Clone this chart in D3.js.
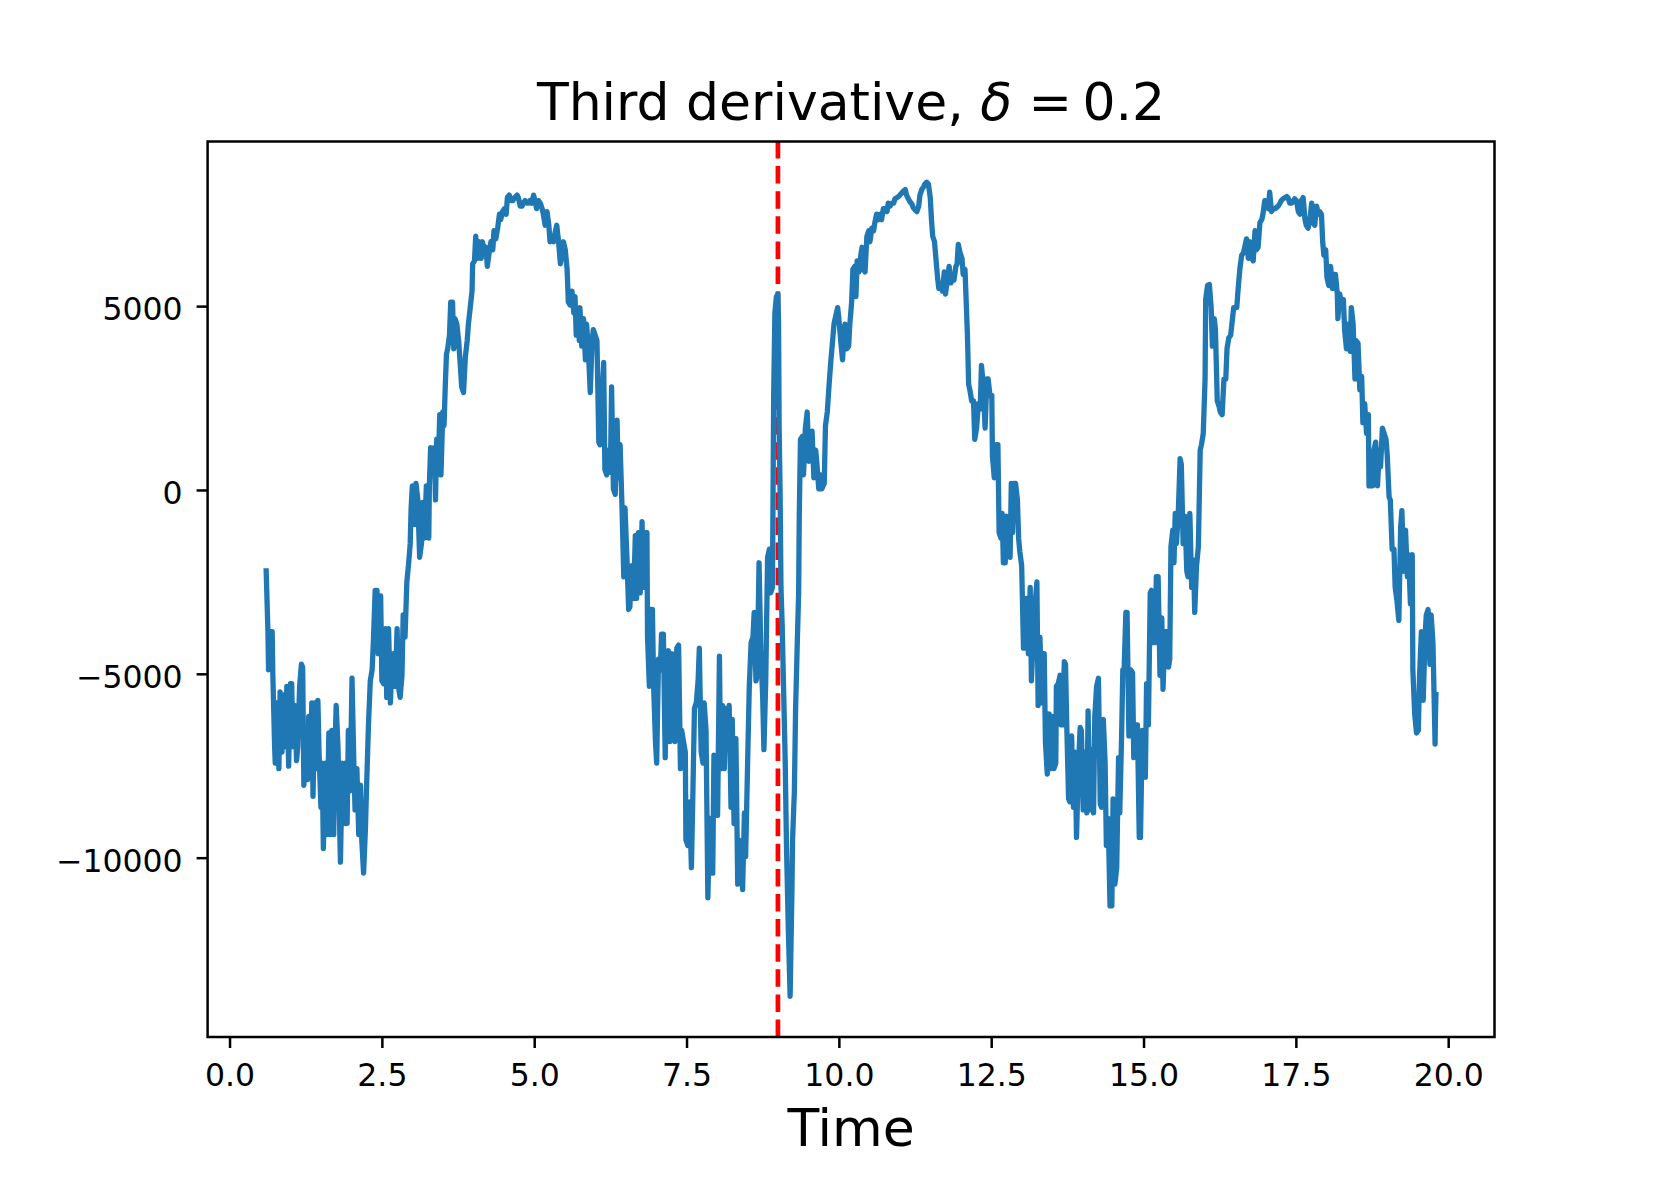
<!DOCTYPE html>
<html>
<head>
<meta charset="utf-8">
<script src="https://cdn.jsdelivr.net/npm/d3@7"></script>
<style>
  body { margin: 0; background: #fff; }
  text { font-family: "DejaVu Sans", sans-serif; fill: #000; }
</style>
</head>
<body>
<div id="chart"></div>
<script>
// Third derivative signal as [time, value]
var series = [
  [0.60,-2130],[0.63,-3850],[0.64,-4890],[0.67,-3850],[0.70,-3850],[0.71,-4970],[0.74,-6980],[0.75,-7430],
  [0.78,-5790],[0.81,-7580],[0.83,-5490],[0.86,-7130],[0.89,-5570],[0.92,-6980],[0.94,-5340],[0.97,-7510],
  [1.00,-5270],[1.02,-5270],[1.04,-6980],[1.07,-5860],[1.10,-7360],[1.12,-6980],[1.15,-5340],[1.18,-4740],
  [1.20,-4820],[1.22,-8030],[1.25,-6610],[1.28,-7880],[1.30,-6160],[1.33,-7580],[1.35,-5790],[1.37,-8330],
  [1.40,-5790],[1.42,-7580],[1.45,-5720],[1.47,-7210],[1.50,-8630],[1.52,-7430],[1.54,-9750],[1.57,-7430],
  [1.60,-9370],[1.63,-6610],[1.65,-9370],[1.68,-6540],[1.71,-9370],[1.72,-7730],[1.75,-5860],[1.78,-6980],
  [1.80,-8630],[1.82,-10120],[1.85,-7430],[1.88,-9070],[1.90,-7430],[1.93,-9070],[1.95,-6540],[1.98,-8180],
  [2.01,-5120],[2.04,-7430],[2.06,-8700],[2.09,-7580],[2.12,-9370],[2.15,-8030],[2.17,-9520],[2.20,-10420],
  [2.23,-9220],[2.25,-8030],[2.28,-6390],[2.31,-5190],[2.34,-4890],[2.36,-4150],[2.39,-2730],[2.42,-2730],
  [2.44,-4450],[2.46,-2880],[2.48,-2880],[2.50,-5190],[2.53,-5270],[2.56,-3770],[2.58,-5640],[2.61,-3770],
  [2.64,-5790],[2.66,-4890],[2.69,-4450],[2.72,-5340],[2.75,-3770],[2.77,-5340],[2.80,-5640],[2.83,-5040],
  [2.85,-3400],[2.88,-4000],[2.91,-2500],[2.94,-1980],[2.965,-1460],[2.98,-490],[3.00,110],[3.04,-940],
  [3.06,180],[3.09,-270],[3.12,-1830],[3.15,-1460],[3.17,-340],[3.20,-1310],[3.23,110],[3.255,-710],
  [3.27,-1310],[3.28,180],[3.30,1150],[3.33,630],[3.36,1150],[3.38,-270],[3.40,1380],[3.43,930],
  [3.45,2050],[3.47,410],[3.50,2120],[3.52,1750],[3.54,2800],[3.56,3690],[3.58,3840],[3.61,4210],
  [3.63,5110],[3.66,5110],[3.68,3840],[3.70,4660],
  [3.73,4510],[3.76,4060],[3.79,3320],[3.81,2800],[3.84,2650],[3.87,3620],[3.90,4060],[3.92,4510],
  [3.95,4960],[3.98,5410],[3.99,6150],[4.02,6230],[4.04,6900],[4.07,6300],[4.10,6750],[4.13,6300],
  [4.15,6750],[4.18,6530],[4.21,6600],[4.23,6080],[4.26,6450],[4.29,6750],[4.32,6530],[4.34,7050],
  [4.37,6830],[4.40,7120],[4.43,7500],[4.45,7350],[4.48,7570],[4.51,7650],[4.54,7500],[4.56,7950],
  [4.59,8020],[4.62,7870],[4.65,7870],[4.68,7950],[4.72,8020],[4.74,7950],[4.77,7720],[4.80,7720],
  [4.83,7830],[4.85,7870],[4.88,7800],[4.91,7800],[4.93,7870],[4.96,7800],[4.99,8020],[5.02,7800],
  [5.04,7650],[5.07,7870],[5.10,7800],[5.13,7650],[5.15,7500],[5.18,7200],[5.21,7570],[5.24,7200],
  [5.26,6750],[5.29,6900],[5.32,6750],[5.34,6980],[5.37,7200],[5.40,6750],[5.43,6150],[5.45,6380],
  [5.48,6750],[5.51,6530],[5.54,6000],[5.56,5110],[5.59,5030],[5.62,5410],[5.65,4810],[5.67,5260],
  [5.69,4210],[5.72,4890],[5.74,4060],[5.75,4960],[5.78,3910],[5.81,4660],[5.84,3540],[5.86,4510],
  [5.89,3770],[5.92,2650],[5.95,4060],[5.97,4360],[6.00,4210],[6.03,4060],[6.06,1300],[6.08,1230],
  [6.11,2420],[6.14,3470],[6.16,560],[6.19,410],[6.22,1080],[6.25,480],[6.27,2800],[6.30,30],
  [6.33,-120],[6.36,1900],[6.38,330],[6.41,1230],[6.44,-410],[6.47,-2360],[6.49,-490],[6.52,-1760],
  [6.55,-3250],[6.57,-3180],[6.60,-2060],[6.63,-2950],[6.66,-1240],[6.68,-2950],[6.71,-1160],[6.74,-2800],
  [6.77,-860],[6.79,-2650],[6.82,-1160],[6.85,-1160],[6.86,-4000],[6.89,-5340],[6.90,-4150],
  [6.91,-3250],[6.94,-3250],[6.96,-5340],[6.99,-6840],[7.01,-7430],[7.04,-4600],[7.07,-4890],[7.09,-3920],
  [7.12,-3920],[7.15,-7280],[7.18,-4450],[7.20,-4370],[7.23,-6840],[7.26,-4450],[7.29,-5340],[7.31,-6840],
  [7.34,-4300],[7.37,-4220],[7.40,-7580],[7.42,-6540],[7.45,-6840],[7.48,-7130],[7.49,-9520],[7.52,-9670],
  [7.55,-8480],[7.58,-10270],[7.60,-8630],[7.63,-5940],[7.66,-5790],[7.69,-5190],[7.71,-4300],[7.74,-7130],
  [7.77,-7430],[7.79,-5790],[7.82,-6540],[7.85,-11090],[7.88,-8930],[7.90,-10420],[7.93,-10420],[7.95,-7210],
  [7.98,-8630],[8.01,-8850],[8.04,-4520],[8.06,-7580],[8.09,-5860],[8.12,-7580],[8.14,-5940],[8.17,-6540],
  [8.20,-5860],[8.23,-8630],[8.25,-6240],[8.28,-9070],[8.31,-6760],[8.34,-10720],[8.36,-9520],[8.39,-9670],
  [8.42,-10870],[8.45,-8780],[8.47,-9970],[8.51,-6840],[8.53,-5340],[8.56,-4150],[8.59,-4000],[8.61,-3330],
  [8.64,-5190],[8.66,-5040],[8.69,-1980],[8.72,-4450],[8.75,-5640],[8.77,-7060],[8.80,-5190],[8.83,-1830],
  [8.86,-1610],[8.88,-2800],[8.91,-2650],[8.93,2570],[8.95,4810],[8.975,5260],[9.00,5330],[9.01,4510],
  [9.02,1680],[9.035,30],[9.05,-2650],[9.07,-3700],[9.10,-5940],[9.12,-7430],[9.14,-9670],[9.17,-11910],
  [9.20,-13770],[9.23,-10870],[9.24,-9520],[9.27,-8180],[9.29,-5940],[9.32,-4000],[9.34,-2800],[9.35,-710],
  [9.37,1380],[9.40,1450],[9.42,410],[9.45,1680],[9.48,2120],[9.51,780],[9.53,1450],[9.56,1600],
  [9.59,330],[9.62,1080],[9.64,700],[9.67,30],[9.70,410],[9.72,30],[9.76,180],[9.78,1750],
  [9.81,2120],[9.84,2870],[9.87,3540],[9.89,3910],[9.92,4510],[9.95,4740],[9.98,4960],[10.00,4660],
  [10.03,4060],[10.06,3540],[10.09,4360],
  [10.10,4510],[10.13,3840],[10.16,3910],[10.18,4510],[10.21,5110],[10.23,6000],[10.26,6080],[10.28,5260],
  [10.30,6230],[10.33,5930],[10.36,6380],[10.38,6600],[10.40,6000],[10.43,5930],[10.46,6900],[10.49,7050],
  [10.51,6750],[10.54,7120],[10.57,7050],[10.59,7270],[10.62,7500],[10.65,7350],[10.68,7500],[10.70,7350],
  [10.73,7650],[10.76,7650],[10.79,7570],[10.81,7800],[10.84,7720],[10.87,7800],[10.90,7800],[10.92,7920],
  [10.95,7950],[10.98,7980],[11.00,8020],[11.03,8070],[11.06,8130],[11.09,8170],[11.11,8020],[11.14,7920],
  [11.17,7830],[11.20,7770],[11.22,7680],[11.25,7620],[11.28,7570],[11.31,7720],[11.33,8020],[11.36,8170],
  [11.39,8240],[11.41,8320],[11.44,8370],[11.47,8320],[11.50,7950],[11.52,7350],[11.54,6900],[11.57,6750],
  [11.60,6150],[11.62,5780],[11.64,5480],[11.67,5560],[11.70,5410],[11.73,5930],[11.75,5330],[11.78,5710],
  [11.81,6080],[11.84,5630],[11.86,5780],[11.89,5710],[11.92,6080],[11.94,6150],[11.96,6680],[11.99,6450],
  [12.02,6300],[12.04,5860],[12.07,6000],[12.09,5110],[12.11,4210],[12.13,2870],[12.15,2720],[12.18,2420],
  [12.21,2420],[12.23,1380],[12.26,1680],[12.29,2350],[12.32,2200],[12.34,3390],[12.37,2870],[12.40,1680],
  [12.43,3020],[12.45,3020],[12.48,2570],[12.51,2570],[12.52,930],[12.55,330],[12.58,1230],[12.61,1230],
  [12.63,-1160],[12.66,-1310],[12.68,-640],[12.70,-1980],[12.73,-1980],[12.75,-710],[12.78,-1760],[12.81,-1830],
  [12.83,180],[12.85,-1160],[12.87,180],[12.90,180],[12.93,-270],[12.95,-1310],[12.97,-1680],[13.00,-2060],
  [13.03,-4300],[13.05,-4300],[13.08,-2950],[13.11,-4450],[13.14,-2650],[13.16,-5190],[13.19,-4000],[13.22,-3100],
  [13.25,-2500],[13.27,-5860],[13.30,-4000],
  [13.33,-5790],[13.36,-4450],[13.37,-4450],[13.39,-6840],[13.42,-7730],[13.45,-6090],[13.48,-7580],[13.50,-6160],
  [13.53,-7580],[13.56,-7430],[13.57,-5340],[13.60,-5270],[13.63,-5040],[13.65,-6390],[13.67,-6390],[13.70,-4670],
  [13.72,-4740],[13.74,-6390],[13.77,-8400],[13.79,-8480],[13.82,-6690],[13.85,-8630],[13.88,-7130],[13.90,-9450],
  [13.93,-7580],[13.96,-6460],[13.98,-6540],[14.01,-8700],[14.04,-7130],[14.07,-8780],[14.09,-6010],[14.12,-8700],
  [14.15,-7060],[14.18,-8780],[14.20,-6160],[14.23,-5340],[14.26,-5120],[14.29,-8550],[14.31,-8630],[14.34,-6240],
  [14.37,-7430],[14.39,-9670],[14.42,-8930],[14.45,-11310],[14.48,-11310],[14.50,-8400],[14.53,-10720],[14.56,-10270],
  [14.59,-7280],[14.61,-8780],[14.64,-6690],[14.66,-4890],[14.68,-4970],[14.71,-3330],[14.73,-3330],[14.76,-6690],
  [14.79,-4890],[14.82,-4970],[14.84,-7280],[14.87,-6390],[14.90,-6390],[14.93,-9450],[14.95,-9450],[14.98,-6540],
  [15.01,-7810],[15.03,-7810],[15.05,-5270],[15.08,-6390],[15.11,-2800],[15.13,-2730],[15.16,-4150],[15.19,-4150],
  [15.21,-2360],[15.24,-2360],[15.27,-5040],[15.30,-3480],[15.32,-5420],[15.35,-3850],[15.38,-3850],[15.41,-4820],
  [15.43,-4600],[15.45,-1540],[15.48,-1090],[15.50,-1980],[15.52,-640],[15.54,-1460],[15.57,-640],[15.60,850],
  [15.62,700],[15.65,-1460],[15.68,-710],[15.71,-2210],[15.73,-2360],[15.76,-640],[15.79,-2650],[15.82,-1910],
  [15.84,-3330],[15.87,-2060],[15.90,-1540],[15.93,1080],[15.95,1230],[15.98,1530],[16.01,3020],[16.02,5180],
  [16.05,5560],[16.08,5590],[16.11,4960],[16.13,3910],[16.16,4660],[16.18,4360],[16.21,2420],[16.24,2270],
  [16.26,2120],[16.29,2050],[16.32,3020],[16.35,3020],[16.37,3840],[16.40,4140],[16.43,4210],[16.46,4660],
  [16.48,4960],
  [16.53,4960],[16.55,5410],[16.58,6000],[16.61,6380],[16.64,6450],[16.66,6600],[16.69,6830],[16.72,6300],
  [16.75,6750],[16.77,6380],[16.80,6230],[16.83,7050],[16.85,6530],[16.88,6600],[16.91,7270],[16.94,7350],
  [16.96,7500],[16.99,7870],[17.02,7800],[17.05,7650],[17.07,8100],[17.10,7570],[17.13,7650],[17.16,7650],
  [17.18,7680],[17.21,7720],[17.24,7800],[17.26,7870],[17.29,7920],[17.32,7950],[17.35,7980],[17.37,7950],
  [17.40,7800],[17.43,7800],[17.46,7870],[17.48,7920],[17.51,7870],[17.54,7570],[17.57,7500],[17.59,7870],
  [17.62,7950],[17.65,7350],[17.67,7200],[17.70,7120],[17.73,7350],[17.76,7800],[17.78,7270],[17.81,7200],
  [17.84,7720],[17.87,7500],[17.89,7570],[17.92,7500],[17.94,6750],[17.96,6380],[17.99,6530],[18.01,5780],
  [18.04,5560],[18.07,6080],[18.10,5480],[18.12,5860],[18.15,5860],[18.18,5330],[18.19,4660],[18.22,5330],
  [18.25,5030],[18.28,5180],[18.30,4360],[18.33,3840],[18.36,4510],[18.39,3770],[18.41,4960],[18.44,4510],
  [18.47,3020],[18.49,4060],[18.52,3990],[18.55,2720],[18.58,3090],[18.60,1830],[18.63,2350],[18.66,1530],
  [18.69,2050],[18.70,110],[18.73,630],[18.76,110],[18.78,1080],[18.81,1300],[18.84,110],[18.87,1080],
  [18.89,630],[18.92,1680],[18.95,1530],[18.98,1380],[19.00,930],[19.03,-190],[19.05,-270],[19.08,-1610],
  [19.11,-1610],[19.13,-2650],[19.16,-3030],[19.19,-3550],[19.22,-1010],[19.24,-560],[19.27,-2210],[19.30,-1090],
  [19.33,-2360],[19.35,-1760],[19.38,-3100],[19.41,-1760],[19.42,-4890],[19.45,-6090],[19.48,-6610],[19.51,-6540],
  [19.53,-5040],[19.56,-3850],[19.59,-5720],[19.62,-4000],[19.64,-3400],[19.67,-3250],[19.70,-4740],[19.72,-3400],
  [19.75,-4150],[19.785,-6910],[19.79,-6240],[19.80,-5490]
];

// Tick positions and the marked time
var xTicks = [0, 2.5, 5, 7.5, 10, 12.5, 15, 17.5, 20];
var yTicks = [-10000, -5000, 0, 5000];
var breakTime = 9.0;

var width = 1661;
var height = 1186;
var plot = { left: 207.6, right: 1494.5, top: 141.5, bottom: 1037 };

var svg = d3.select("#chart")
    .append("svg")
    .attr("width", width)
    .attr("height", height);

// matplotlib style 5% margins around the data
function padded(ext) {
    var pad = (ext[1] - ext[0]) * 0.05;
    return [ext[0] - pad, ext[1] + pad];
}

var x = d3.scaleLinear()
    .domain(padded(d3.extent(series, d => d[0])))
    .range([plot.left, plot.right]);

var y = d3.scaleLinear()
    .domain(padded(d3.extent(series, d => d[1])))
    .range([plot.bottom, plot.top]);

// Dashed marker at the break time (under the signal)
svg.append("line")
    .attr("x1", x(breakTime))
    .attr("x2", x(breakTime))
    .attr("y1", plot.bottom)
    .attr("y2", plot.top)
    .attr("stroke", "red")
    .attr("stroke-width", 4.7)
    .attr("stroke-dasharray", "17.5,7.6");

// Signal line
var line = d3.line()
    .x(d => x(d[0]))
    .y(d => y(d[1]));

svg.append("path")
    .datum(series)
    .attr("d", line)
    .attr("fill", "none")
    .attr("stroke", "#1f77b4")
    .attr("stroke-width", 5.3)
    .attr("stroke-linejoin", "round");

// Axes
var xAxis = svg.append("g")
    .attr("transform", `translate(0, ${plot.bottom})`)
    .call(d3.axisBottom(x)
        .tickValues(xTicks)
        .tickFormat(d3.format(".1f"))
        .tickSize(11)
        .tickPadding(16));

var yAxis = svg.append("g")
    .attr("transform", `translate(${plot.left}, 0)`)
    .call(d3.axisLeft(y)
        .tickValues(yTicks)
        .tickFormat(d3.format("d"))
        .tickSize(11)
        .tickPadding(14));

[xAxis, yAxis].forEach(function(g) {
    g.select(".domain").remove();
    g.selectAll(".tick line").attr("stroke", "#000").attr("stroke-width", 2.5);
    g.selectAll(".tick text")
        .style("font-family", "'DejaVu Sans', sans-serif")
        .style("font-size", "31.5px")
        .attr("fill", "#000");
});
yAxis.selectAll(".tick text").attr("dy", "0.44em");

// Frame
svg.append("rect")
    .attr("x", plot.left)
    .attr("y", plot.top)
    .attr("width", plot.right - plot.left)
    .attr("height", plot.bottom - plot.top)
    .attr("fill", "none")
    .attr("stroke", "#000")
    .attr("stroke-width", 2.5);

var cx = (plot.left + plot.right) / 2;

// Title with italic delta, tighter math spacing after "="
var title = svg.append("text")
    .attr("x", cx)
    .attr("y", 120)
    .attr("text-anchor", "middle")
    .style("font-size", "52px");
title.append("tspan").text("Third derivative, ");
title.append("tspan").style("font-style", "italic").text("δ");
title.append("tspan").text(" =\u20090.2");

// X label
svg.append("text")
    .attr("x", cx)
    .attr("y", 1146)
    .attr("text-anchor", "middle")
    .style("font-size", "52px")
    .text("Time");
</script>
</body>
</html>
